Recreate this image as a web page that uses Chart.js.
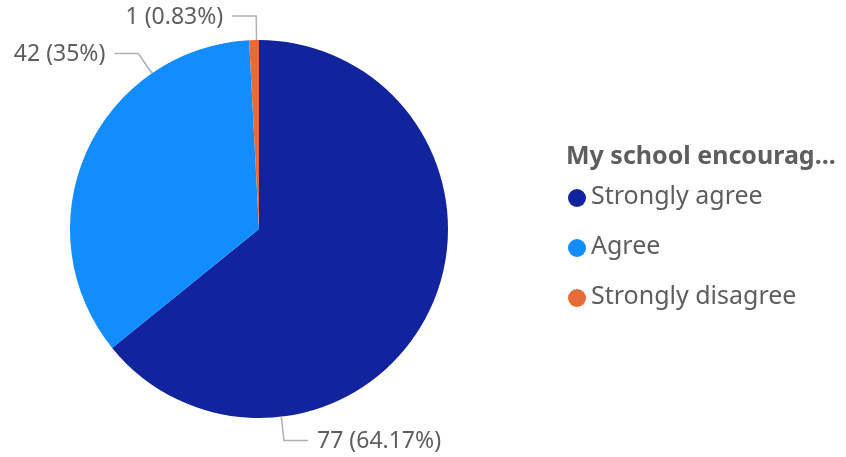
<!DOCTYPE html>
<html>
<head>
<meta charset="utf-8">
<script src="https://cdn.jsdelivr.net/npm/chart.js@4"></script>
<style>
  html, body { margin: 0; padding: 0; background: #fff; }
  #wrap { width: 846px; height: 457px; position: relative; }
</style>
</head>
<body>
<div id="wrap"><canvas id="pieChart"></canvas></div>
<script>
const categories = ["Strongly agree", "Agree", "Strongly disagree"];
const counts = [77, 42, 1];
const percentLabels = ["64.17%", "35%", "0.83%"];
const legendTitle = "My school encourag...";
const sliceColors = ["#12239E", "#118DFF", "#E66C37"];

const FONT = "'Noto Sans', 'Open Sans', sans-serif";
const TEXT_COLOR = "#605E5C";

// ===== Leader line labels =====
const leaderLabels = {
  id: "leaderLabels",
  afterDatasetsDraw(chart) {
    const ctx = chart.ctx;
    const arcs = chart.getDatasetMeta(0).data;
    ctx.save();
    ctx.font = "23px " + FONT;
    ctx.textBaseline = "middle";
    arcs.forEach((arc, i) => {
      const { x, y, startAngle, endAngle, outerRadius } = arc.getProps(["x", "y", "startAngle", "endAngle", "outerRadius"], true);
      const a = startAngle + (endAngle - startAngle) * 0.75;
      const x0 = x + Math.cos(a) * outerRadius;
      const y0 = y + Math.sin(a) * outerRadius;
      const x1 = x + Math.cos(a) * (outerRadius + 24);
      const y1 = y + Math.sin(a) * (outerRadius + 24);
      const dir = x1 >= x ? 1 : -1;
      const x2 = x1 + dir * 24;
      ctx.strokeStyle = "#B3B0AD";
      ctx.lineWidth = 1.5;
      ctx.beginPath();
      ctx.moveTo(x0, y0);
      ctx.lineTo(x1, y1);
      ctx.lineTo(x2, y1);
      ctx.stroke();
      ctx.fillStyle = TEXT_COLOR;
      ctx.textAlign = dir > 0 ? "left" : "right";
      ctx.fillText(`${counts[i]} (${percentLabels[i]})`, x2 + dir * 9, y1 + 1);
    });
    ctx.restore();
  }
};

// ===== Legend on the right =====
const sideLegend = {
  id: "sideLegend",
  afterDraw(chart) {
    const ctx = chart.ctx;
    ctx.save();
    ctx.textBaseline = "middle";
    ctx.textAlign = "left";
    ctx.fillStyle = TEXT_COLOR;
    ctx.font = "bold 25px " + FONT;
    ctx.fillText(legendTitle, 566, 157);
    ctx.font = "25px " + FONT;
    categories.forEach((name, i) => {
      const cy = 198 + i * 50;
      ctx.fillStyle = sliceColors[i];
      ctx.beginPath();
      ctx.arc(577, cy, 9, 0, Math.PI * 2);
      ctx.fill();
      ctx.fillStyle = TEXT_COLOR;
      ctx.fillText(name, 591, cy - 1);
    });
    ctx.restore();
  }
};

const ctx = document.getElementById("pieChart").getContext("2d");
new Chart(ctx, {
  type: "pie",
  data: {
    labels: categories,
    datasets: [{
      data: counts,
      backgroundColor: sliceColors,
      borderWidth: 0
    }]
  },
  options: {
    responsive: true,
    maintainAspectRatio: false,
    animation: false,
    layout: { padding: { left: 70, right: 398, top: 40, bottom: 39 } },
    plugins: {
      legend: { display: false },
      tooltip: { enabled: false }
    }
  },
  plugins: [leaderLabels, sideLegend]
});
</script>
</body>
</html>
